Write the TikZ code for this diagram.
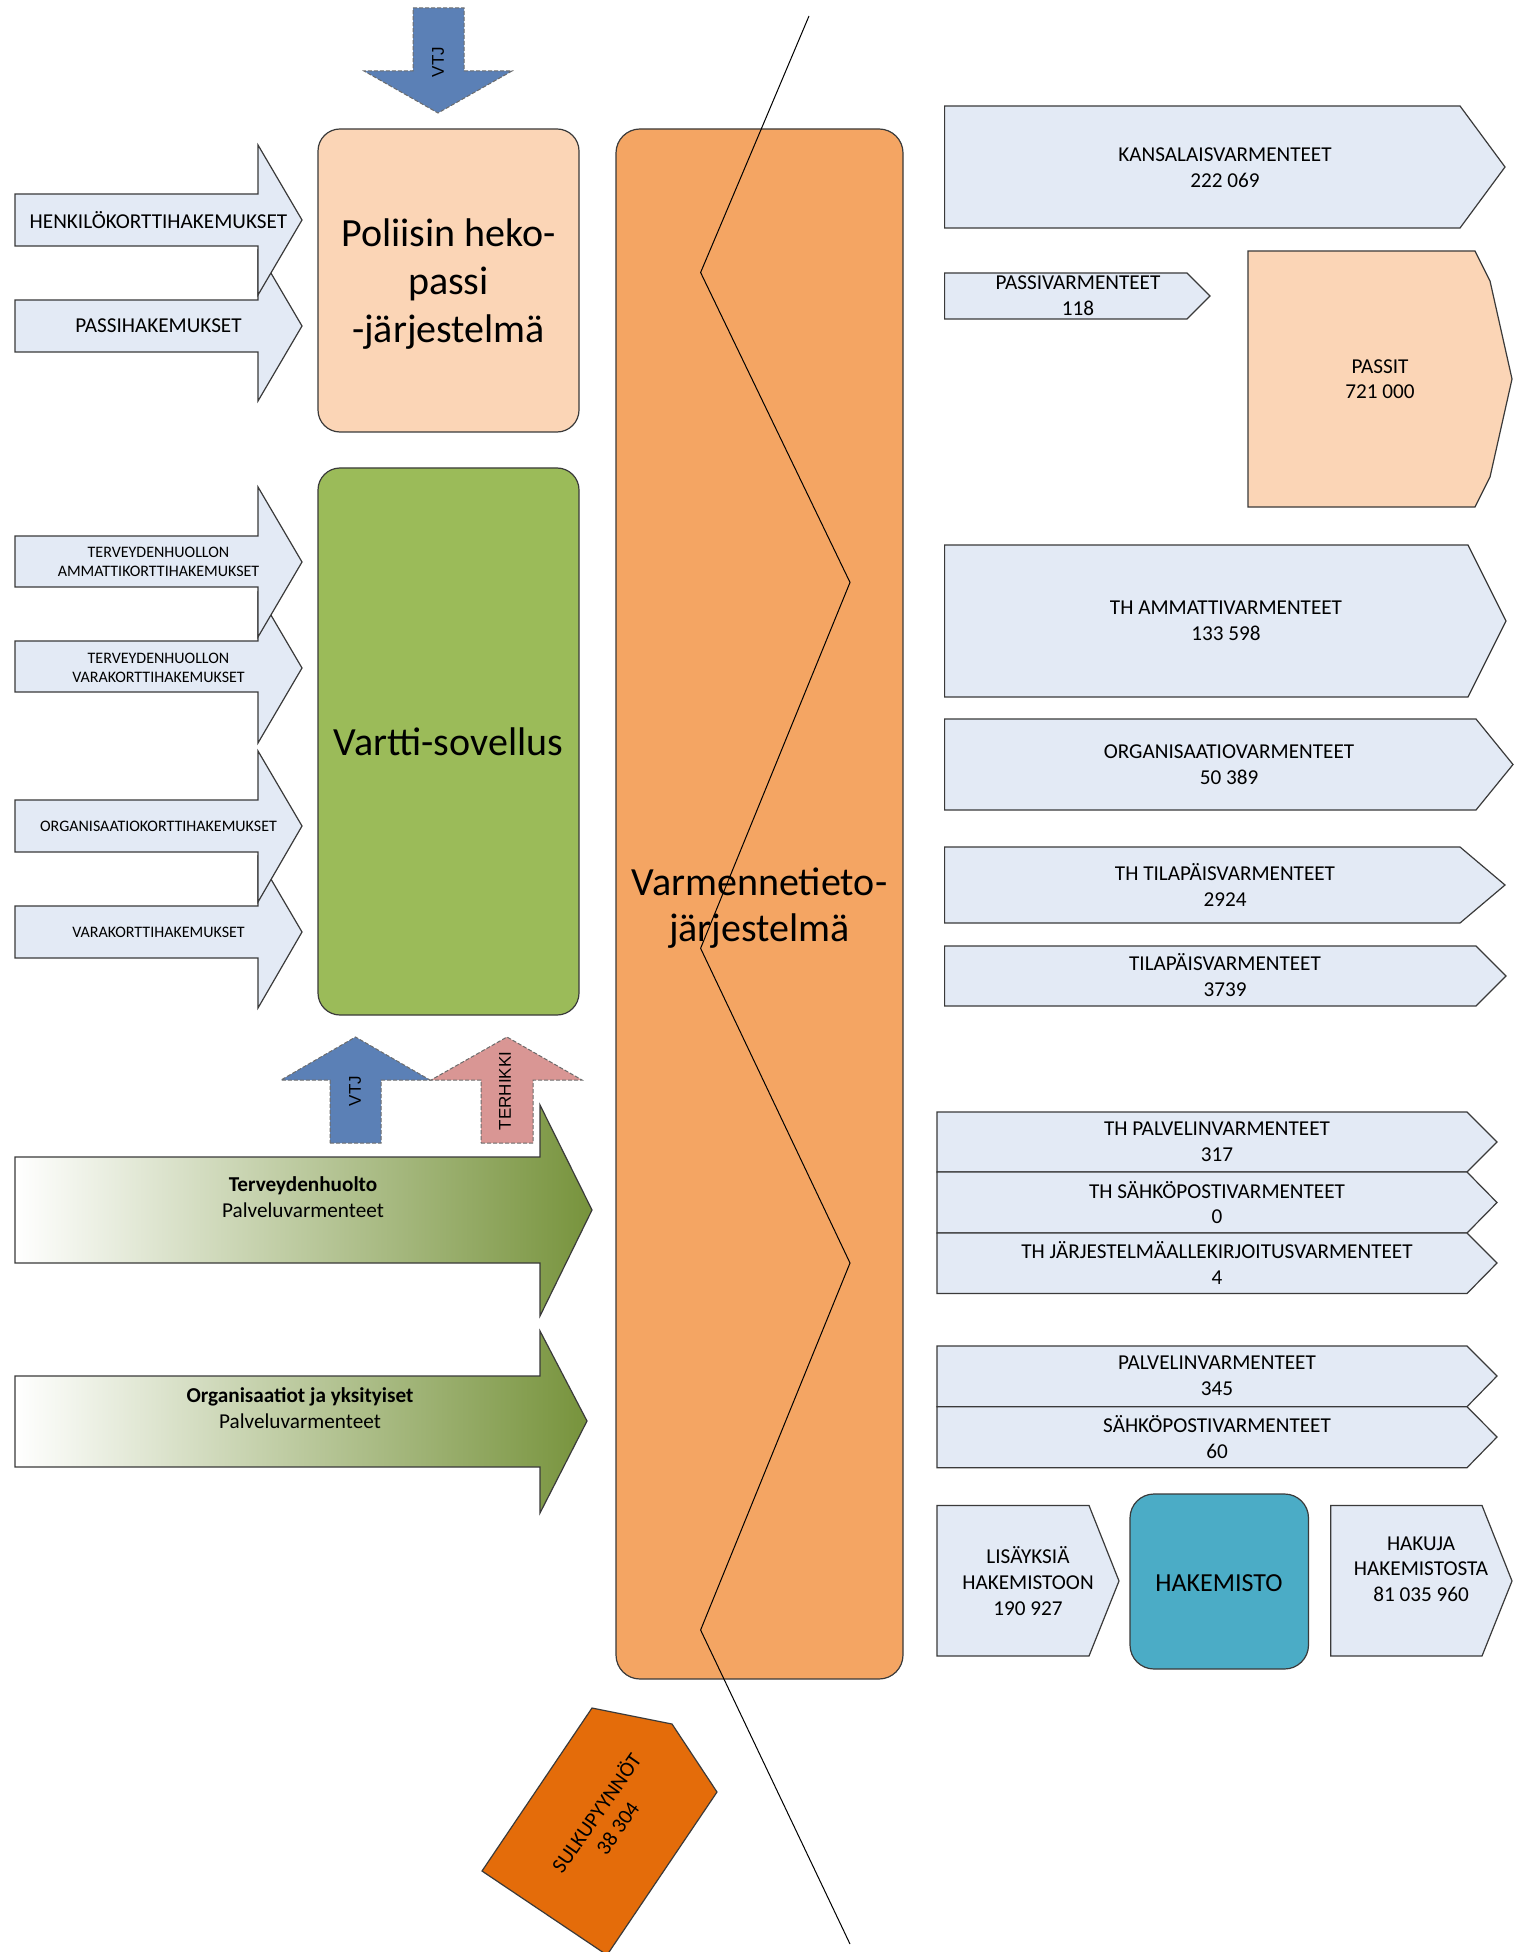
\documentclass[tikz,border=0pt]{standalone}
\usepackage{fontspec}
\setmainfont{Carlito}
\newfontfamily\arialf{Liberation Sans}
\definecolor{lblue}{HTML}{E3EAF5}
\definecolor{peach}{HTML}{FBD5B6}
\definecolor{vgreen}{HTML}{9BBB59}
\definecolor{vorange}{HTML}{F4A563}
\definecolor{sorange}{HTML}{E46C0A}
\definecolor{vblue}{HTML}{5B80B6}
\definecolor{vpink}{HTML}{D99694}
\definecolor{hkteal}{HTML}{4BACC6}
\definecolor{ggreen}{HTML}{77933C}
\definecolor{edgec}{HTML}{3A3A3A}
\tikzset{
  shp/.style={draw=edgec, line width=0.6pt, line join=miter},
  lb/.style={shp, fill=lblue},
  grad/.style={shp, left color=white, right color=ggreen, middle color=ggreen!50!white},
  dsh/.style={draw=gray!85!black, dash pattern=on 2pt off 1pt, line width=0.5pt},
  txt/.style={align=center, inner sep=0pt, font=\fontsize{10.6}{12.8}\selectfont},
  stxt/.style={align=center, inner sep=0pt, font=\fontsize{8}{9.8}\selectfont},
  bigtxt/.style={align=center, inner sep=0pt, font=\fontsize{20}{24}\selectfont},
  atxt/.style={inner sep=0pt, rotate=90, font=\arialf\fontsize{8.5}{9}\selectfont},
}
% block arrow pointing right: style, x0, xbody, xtip, bodytop, bodybot, headtop, headbot, tipy
\newcommand\blockarrow[9]{\path[#1] (#2,#5) -- (#3,#5) -- (#3,#7) -- (#4,#9) -- (#3,#8) -- (#3,#6) -- (#2,#6) -- cycle;}
% home plate: style, x0, xbody, xtip, ytop, ybot, ytip
\newcommand\hplate[7]{\path[#1] (#2,#5) -- (#3,#5) -- (#4,#7) -- (#3,#6) -- (#2,#6) -- cycle;}
\begin{document}
\begin{tikzpicture}[x=0.5pt,y=-0.5pt]
\useasboundingbox (0,0) rectangle (1522,1952);
\clip (0,0) rectangle (1522,1952);
\fill[white] (0,0) rectangle (1522,1952);

% ---------- top VTJ arrow ----------
\path[dsh, fill=vblue] (413,8) -- (464,8) -- (464,71) -- (512,71) -- (438,113) -- (364,71) -- (413,71) -- cycle;
\node[atxt] (vtjtop) at (438,62) {VTJ};

% ---------- Poliisin box ----------
\path[shp, fill=peach, rounded corners=11pt] (318,129) rectangle (579,432);
\node[bigtxt] (poliisi) at (448.5,284) {Poliisin heko-\\passi\\-järjestelmä};

% ---------- left input arrows, group 1 ----------
\blockarrow{lb}{15}{258}{302}{300}{352}{251}{401}{326}
\blockarrow{lb}{15}{258}{302}{194}{246}{145}{295}{220}
\node[txt] (henk) at (158.5,220) {HENKILÖKORTTIHAKEMUKSET};
\node[txt] (passih) at (158.5,326) {PASSIHAKEMUKSET};

% ---------- Vartti box ----------
\path[shp, fill=vgreen, rounded corners=11pt] (318,468) rectangle (579,1015);
\node[bigtxt] (vartti) at (448.5,742) {Vartti-sovellus};

% ---------- left input arrows, group 2 ----------
\blockarrow{lb}{15}{258}{302}{641}{692}{593}{743}{668}
\blockarrow{lb}{15}{258}{302}{536}{587}{487}{637}{562}
\blockarrow{lb}{15}{258}{302}{906}{958}{857}{1008}{932}
\blockarrow{lb}{15}{258}{302}{800}{852}{751}{902}{826}
\node[stxt] (tham) at (158.5,562) {TERVEYDENHUOLLON\\AMMATTIKORTTIHAKEMUKSET};
\node[stxt] (thvk) at (158.5,668) {TERVEYDENHUOLLON\\VARAKORTTIHAKEMUKSET};
\node[stxt] (orgk) at (158.5,826) {ORGANISAATIOKORTTIHAKEMUKSET};
\node[stxt] (vark) at (158.5,932) {VARAKORTTIHAKEMUKSET};

% ---------- VTJ / TERHIKKI up arrows ----------
\path[dsh, fill=vblue] (330,1143) -- (381,1143) -- (381,1080) -- (430,1080) -- (355.5,1037) -- (281,1080) -- (330,1080) -- cycle;
\node[atxt] (vtjup) at (355,1091) {VTJ};
\path[dsh, fill=vpink] (481,1143) -- (533,1143) -- (533,1080) -- (582,1080) -- (507,1037) -- (431,1080) -- (481,1080) -- cycle;
\node[atxt] (terhikki) at (505,1091) {TERHIKKI};

% ---------- gradient arrows ----------
\blockarrow{grad}{15}{540}{592}{1157}{1263}{1105}{1316}{1210}
\node[txt] (terv) at (303,1197) {\textbf{Terveydenhuolto}\\Palveluvarmenteet};
\blockarrow{grad}{15}{540}{587}{1376}{1467}{1331}{1513}{1421}
\node[txt] (orgy) at (300,1408) {\textbf{Organisaatiot ja yksityiset}\\Palveluvarmenteet};

% ---------- Varmennetietojärjestelmä ----------
\path[shp, fill=vorange, rounded corners=12pt] (616,129) rectangle (903,1679);
\node[bigtxt, font=\fontsize{20}{23}\selectfont] (varm) at (759.5,908) {Varmennetieto-\\järjestelmä};
\draw[black, line width=0.5pt] (809,16) -- (700.6,272.5) -- (850,582.4) -- (700.6,948.3) -- (850,1263) -- (700.6,1630) -- (850,1944);

% ---------- Sulkupyynnöt ----------
\path[shp, fill=sorange] (592,1708) -- (672,1724) -- (717,1792) -- (607,1955) -- (482,1871) -- cycle;
\node[txt, rotate=55] (sulku) at (606,1820) {SULKUPYYNNÖT\\38 304};

% ---------- right side outputs ----------
\hplate{lb}{944.6}{1460}{1505}{106}{228}{167}
\node[txt] (kans) at (1225,168) {KANSALAISVARMENTEET\\222 069};
\hplate{lb}{944.6}{1187}{1210}{273}{319}{296}
\node[txt] (pasv) at (1078,296) {PASSIVARMENTEET\\118};
\path[shp, fill=peach] (1248,251) -- (1475,251) -- (1490,281) -- (1512,379) -- (1490,477) -- (1475,507) -- (1248,507) -- cycle;
\node[txt] (passit) at (1380,379) {PASSIT\\721 000};

\hplate{lb}{944.6}{1468}{1506}{545}{697}{621}
\node[txt] (thamv) at (1226,621) {TH AMMATTIVARMENTEET\\133 598};
\hplate{lb}{944.6}{1476}{1513}{719}{810}{764.5}
\node[txt] (orgv) at (1229,764.5) {ORGANISAATIOVARMENTEET\\50 389};
\hplate{lb}{944.6}{1460}{1505}{847}{923}{885}
\node[txt] (thtil) at (1225,885) {TH TILAPÄISVARMENTEET\\2924};
\hplate{lb}{944.6}{1476}{1506}{946}{1006}{976}
\node[txt] (til) at (1225,975) {TILAPÄISVARMENTEET\\3739};

\hplate{lb}{937}{1467}{1497}{1112}{1172}{1142}
\hplate{lb}{937}{1467}{1497}{1172}{1233}{1202.5}
\hplate{lb}{937}{1467}{1497}{1233}{1293.5}{1263}
\node[txt] (thpal) at (1217,1142) {TH PALVELINVARMENTEET\\317};
\node[txt] (thsah) at (1217,1202.5) {TH SÄHKÖPOSTIVARMENTEET\\0};
\node[txt] (thjar) at (1217,1263) {TH JÄRJESTELMÄALLEKIRJOITUSVARMENTEET\\4};

\hplate{lb}{937}{1467}{1497}{1346}{1406.7}{1376}
\hplate{lb}{937}{1467}{1497}{1406.7}{1467.7}{1437}
\node[txt] (pal) at (1217,1376) {PALVELINVARMENTEET\\345};
\node[txt] (sah) at (1217,1437) {SÄHKÖPOSTIVARMENTEET\\60};

\hplate{lb}{937}{1089}{1119}{1505.5}{1656}{1581}
\node[txt] (lis) at (1028,1581) {LISÄYKSIÄ\\HAKEMISTOON\\190 927};
\path[shp, fill=hkteal, rounded corners=12pt] (1130,1494) rectangle (1308.5,1669);
\node[inner sep=0pt, font=\fontsize{13}{15}\selectfont] (hak) at (1219,1583) {HAKEMISTO};
\hplate{lb}{1330.7}{1482}{1512}{1505.5}{1656}{1581}
\node[txt] (hakuja) at (1421,1569) {HAKUJA\\HAKEMISTOSTA\\81 035 960};
\end{tikzpicture}
\end{document}
